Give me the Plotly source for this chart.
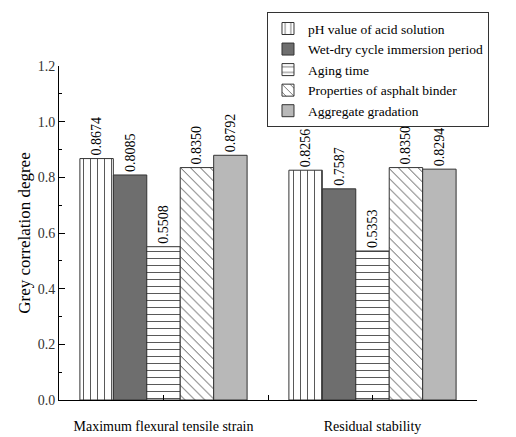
import plotly.graph_objects as go

categories = ["Maximum flexural tensile strain", "Residual stability"]
factors = [
    "pH value of acid solution",
    "Wet-dry cycle immersion period",
    "Aging time",
    "Properties of asphalt binder",
    "Aggregate gradation",
]
values = [
    [0.8674, 0.8256],
    [0.8085, 0.7587],
    [0.5508, 0.5353],
    [0.8350, 0.8350],
    [0.8792, 0.8294],
]

# fill style per factor: (base colour, pattern shape)
styles = [
    ("white", "|"),
    ("#6e6e6e", ""),
    ("white", "-"),
    ("white", "\\"),
    ("#b8b8b8", ""),
]

FONT = "Times New Roman, Liberation Serif, serif"
x_pos = list(range(len(categories)))

fig = go.Figure()
for name, vals, (color, shape) in zip(factors, values, styles):
    marker = dict(color=color, line=dict(color="#333333", width=1))
    if shape:
        marker["pattern"] = dict(shape=shape, fgcolor="#555555", bgcolor="white",
                                 size=7, solidity=0.14, fillmode="replace")
    fig.add_trace(go.Bar(
        x=x_pos, y=vals, name=name, marker=marker,
        text=[f"{v:.4f}" for v in vals], textposition="outside",
        textangle=-90, constraintext="none", cliponaxis=False,
        textfont=dict(family=FONT, size=14, color="black"),
    ))

fig.update_layout(
    width=516, height=437,
    margin=dict(l=59, r=39, t=64, b=37),
    paper_bgcolor="white", plot_bgcolor="white",
    barmode="group", bargap=0.2, bargroupgap=0,
    font=dict(family=FONT, size=14, color="black"),
    showlegend=True,
    legend=dict(
        x=0.4976, y=1.161, xanchor="left", yanchor="top",
        bgcolor="white", bordercolor="#333333", borderwidth=1,
        font=dict(family=FONT, size=13.5, color="black"),
        itemwidth=30, tracegroupgap=0,
    ),
)

fig.update_xaxes(
    range=[-0.5, 1.5],
    tickvals=[0, 0.5, 1, 1.5],
    ticktext=[categories[0], "", categories[1], ""],
    ticks="inside", ticklen=5, tickcolor="black",
    ticklabelstandoff=13, automargin=False,
    showline=True, linecolor="black", linewidth=1,
    showgrid=False, zeroline=False,
    tickfont=dict(family=FONT, size=14, color="black"),
)

fig.update_yaxes(
    range=[0, 1.2], dtick=0.2, tickformat=".1f",
    ticks="inside", ticklen=6, tickcolor="black",
    minor=dict(dtick=0.1, ticks="inside", ticklen=3, tickcolor="black"),
    showline=True, linecolor="black", linewidth=1,
    showgrid=False, zeroline=False, automargin=False,
    title=dict(text="Grey correlation degree", standoff=2,
               font=dict(family=FONT, size=17)),
    tickfont=dict(family=FONT, size=14, color="#333333"),
)

fig.write_html("out.html")
